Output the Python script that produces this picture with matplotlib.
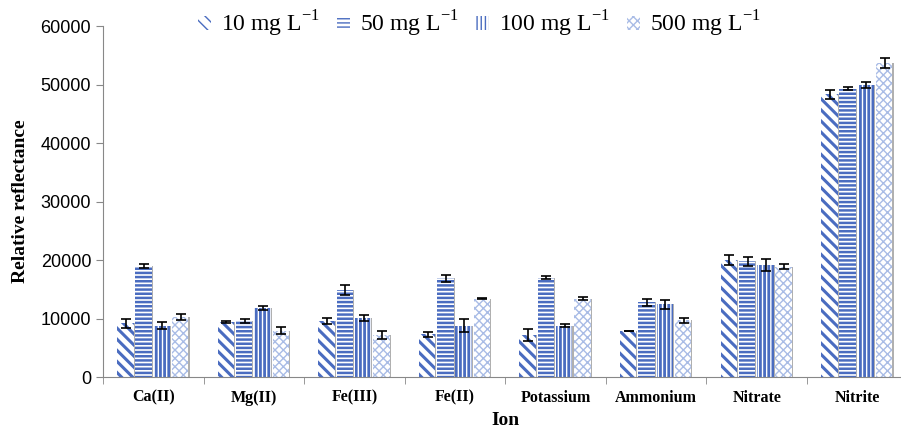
import numpy as np
import matplotlib
matplotlib.use("Agg")
import matplotlib.pyplot as plt

# data
ions = ['Ca(II)', 'Mg(II)', 'Fe(III)', 'Fe(II)', 'Potassium', 'Ammonium', 'Nitrate', 'Nitrite']
labels = ['10 mg L$^{\\mathregular{-1}}$', '50 mg L$^{\\mathregular{-1}}$',
          '100 mg L$^{\\mathregular{-1}}$', '500 mg L$^{\\mathregular{-1}}$']

c10 = [9200, 9400, 9600, 7300, 7200, 7900, 20000, 48300]
c50 = [19000, 9600, 14900, 16900, 17000, 12800, 19800, 49300]
c100 = [8800, 11800, 10150, 8800, 8800, 12400, 19100, 49850]
c500 = [10300, 7900, 7200, 13400, 13400, 9700, 18850, 53700]

e10 = [800, 100, 500, 450, 1000, 0, 900, 800]
e50 = [400, 300, 800, 600, 200, 600, 800, 200]
e100 = [600, 400, 500, 1100, 300, 800, 1000, 500]
e500 = [500, 600, 700, 100, 200, 400, 400, 800]

series = [c10, c50, c100, c500]
errors = [e10, e50, e100, e500]
hatches = ['\\\\\\', '----', '||||', 'xxxx']
hcolors = ['#4a6cc0', '#4a6cc0', '#4a6cc0', '#a9bce6']
hwidths = [2.2, 1.8, 2.0, 1.0]

plt.rcParams['mathtext.fontset'] = 'custom'
plt.rcParams['mathtext.rm'] = 'Liberation Serif'

fig = plt.figure(figsize=(9.01, 4.33), dpi=100)
ax = fig.add_axes([0.1143, 0.1293, 0.893, 0.8106])

x = np.arange(len(ions))
w = 0.182
for i in range(4):
    pos = x + (i - 1.5) * w
    plt.rcParams['hatch.linewidth'] = hwidths[i]
    ax.bar(pos, series[i], width=w * 0.95, color='white', edgecolor=hcolors[i],
           hatch=hatches[i], linewidth=0, label=labels[i], zorder=2)
    # grey shadow on the right edge of each bar
    ax.bar(pos + w * 0.45, series[i], width=w * 0.06, color='#b0b0b0',
           linewidth=0, zorder=2)
    ax.errorbar(pos, series[i], yerr=errors[i], fmt='none', ecolor='black',
                elinewidth=1.2, capsize=3.5, capthick=1.2, zorder=3)

ax.set_xlim(-0.5, len(ions) - 0.5)
ax.set_ylim(0, 60000)
ax.set_yticks(range(0, 60001, 10000))
ax.set_xticks(x)
ax.set_xticklabels(ions, fontfamily='Liberation Serif', fontweight='bold', fontsize=11.5)
ax.set_xticks(np.arange(-0.5, len(ions), 1), minor=True)
ax.tick_params(axis='x', which='major', length=0, pad=9)
ax.tick_params(axis='x', which='minor', length=5, color='#888888')
ax.tick_params(axis='y', length=5, color='#888888', labelsize=13)
for t in ax.get_yticklabels():
    t.set_fontfamily('Liberation Sans')

for s in ['top', 'right']:
    ax.spines[s].set_visible(False)
for s in ['left', 'bottom']:
    ax.spines[s].set_color('#888888')

ax.set_xlabel('Ion', fontfamily='Liberation Serif', fontweight='bold', fontsize=14, labelpad=5)
ax.set_ylabel('Relative reflectance', fontfamily='Liberation Serif', fontweight='bold', fontsize=14, labelpad=8)

handles, lbls = ax.get_legend_handles_labels()
leg = fig.legend(handles[:4], lbls[:4], loc='center', bbox_to_anchor=(0.532, 0.945), ncol=4, frameon=False,
                 prop={'family': 'Liberation Serif', 'size': 17},
                 handlelength=0.55, handleheight=0.55, handletextpad=0.45, columnspacing=0.7)

fig.savefig('out.png', dpi=100)
